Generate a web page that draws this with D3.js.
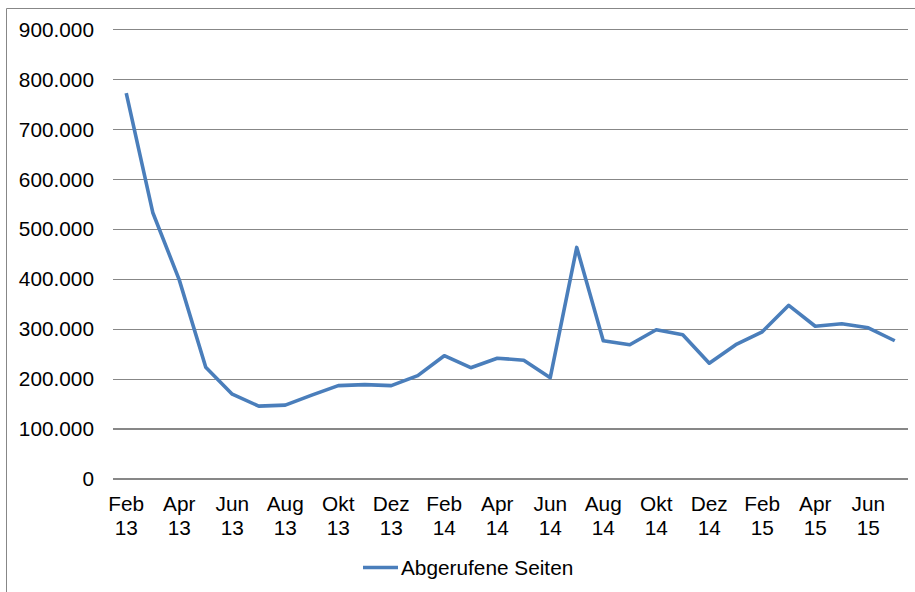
<!DOCTYPE html>
<html>
<head>
<meta charset="utf-8">
<script src="https://cdn.jsdelivr.net/npm/d3@7"></script>
<style>
  html, body { margin: 0; padding: 0; background: #fff; overflow: hidden; }
  #chart svg { display: block; }
  svg text { font-family: "Liberation Sans", Arial, sans-serif; fill: #000; }
</style>
</head>
<body>
<div id="chart"></div>
<script>
// Monthly data, Feb 2013 .. Jul 2015
const months = ['Feb', 'Mär', 'Apr', 'Mai', 'Jun', 'Jul', 'Aug', 'Sep', 'Okt', 'Nov', 'Dez', 'Jan',
  'Feb', 'Mär', 'Apr', 'Mai', 'Jun', 'Jul', 'Aug', 'Sep', 'Okt', 'Nov', 'Dez', 'Jan',
  'Feb', 'Mär', 'Apr', 'Mai', 'Jun', 'Jul'];
const years = ['13', '13', '13', '13', '13', '13', '13', '13', '13', '13', '13', '14',
  '14', '14', '14', '14', '14', '14', '14', '14', '14', '14', '14', '15',
  '15', '15', '15', '15', '15', '15'];
const pageViews = [772000, 533000, 398000, 223000, 169000, 145000, 147000, 167000, 186000, 188000,
  186000, 206000, 246000, 222000, 241000, 237000, 202000, 463000, 276000, 268000,
  298000, 288000, 231000, 268000, 294000, 347000, 305000, 310000, 302000, 276000];
const yTicks = [0, 100000, 200000, 300000, 400000, 500000, 600000, 700000, 800000, 900000];
const seriesName = 'Abgerufene Seiten';

const width = 915, height = 592;
const margin = { top: 29.3, right: 7, bottom: 113.5, left: 113 };
const innerWidth = width - margin.left - margin.right;
const innerHeight = height - margin.top - margin.bottom;
const lineColor = '#4a7ebb';
const gridColor = '#878787';
const fontSize = 20.8;

const root = d3.select('#chart')
  .append('svg')
  .attr('width', width)
  .attr('height', height);

// chart frame: only the left and top edges fall inside the window
root.append('path')
  .attr('d', `M6.5,${height} V8.5 H${width}`)
  .attr('fill', 'none')
  .attr('stroke', gridColor)
  .attr('stroke-width', 1);

const svg = root.append('g')
  .attr('transform', `translate(${margin.left},${margin.top})`);

const keys = months.map((m, i) => i);

const x = d3.scalePoint()
  .domain(keys)
  .range([0, innerWidth])
  .padding(0.5);

const y = d3.scaleLinear()
  .domain([0, 900000])
  .range([innerHeight, 0]);

// Gridlines
svg.append('g')
  .attr('class', 'y-grid')
  .call(
    d3.axisLeft(y)
      .tickValues(yTicks)
      .tickSize(-innerWidth)
      .tickFormat(() => '')
  )
  .call(g => g.select('.domain').remove())
  .call(g => g.selectAll('text').remove())
  .selectAll('line')
  .attr('stroke', gridColor)
  .attr('stroke-width', 1.2)
  .attr('shape-rendering', 'crispEdges');

// Y axis labels
const fmt = d3.formatLocale({ decimal: ',', thousands: '.', grouping: [3], currency: ['', ' €'] }).format(',.0f');
svg.append('g')
  .attr('class', 'y-axis')
  .selectAll('text')
  .data(yTicks)
  .enter()
  .append('text')
  .attr('x', -19)
  .attr('y', d => y(d) + 7.5)
  .attr('text-anchor', 'end')
  .style('font-size', fontSize + 'px')
  .text(d => fmt(d));

// X axis labels (every second month, two lines)
const labelKeys = keys.filter(i => i % 2 === 0);
const xAxisG = svg.append('g')
  .attr('class', 'x-axis')
  .attr('transform', `translate(0,${innerHeight})`);

xAxisG.selectAll('text.month')
  .data(labelKeys)
  .enter()
  .append('text')
  .attr('class', 'month')
  .attr('text-anchor', 'middle')
  .attr('x', d => x(d))
  .attr('y', 32.3)
  .style('font-size', fontSize + 'px')
  .text(d => months[d]);

xAxisG.selectAll('text.year')
  .data(labelKeys)
  .enter()
  .append('text')
  .attr('class', 'year')
  .attr('text-anchor', 'middle')
  .attr('x', d => x(d))
  .attr('y', 56.5)
  .style('font-size', fontSize + 'px')
  .text(d => years[d]);

// Line
const line = d3.line()
  .x((d, i) => x(i))
  .y(d => y(d));

svg.append('path')
  .datum(pageViews)
  .attr('fill', 'none')
  .attr('stroke', lineColor)
  .attr('stroke-width', 3.6)
  .attr('stroke-linejoin', 'round')
  .attr('stroke-linecap', 'butt')
  .attr('d', line);

// Legend
const legend = root.append('g')
  .attr('class', 'legend')
  .attr('transform', 'translate(363,567.5)');

legend.append('line')
  .attr('x1', 0)
  .attr('x2', 35)
  .attr('y1', 0)
  .attr('y2', 0)
  .attr('stroke', lineColor)
  .attr('stroke-width', 3.6);

legend.append('text')
  .attr('x', 38)
  .attr('y', 7.5)
  .style('font-size', fontSize + 'px')
  .text(seriesName);
</script>
</body>
</html>
